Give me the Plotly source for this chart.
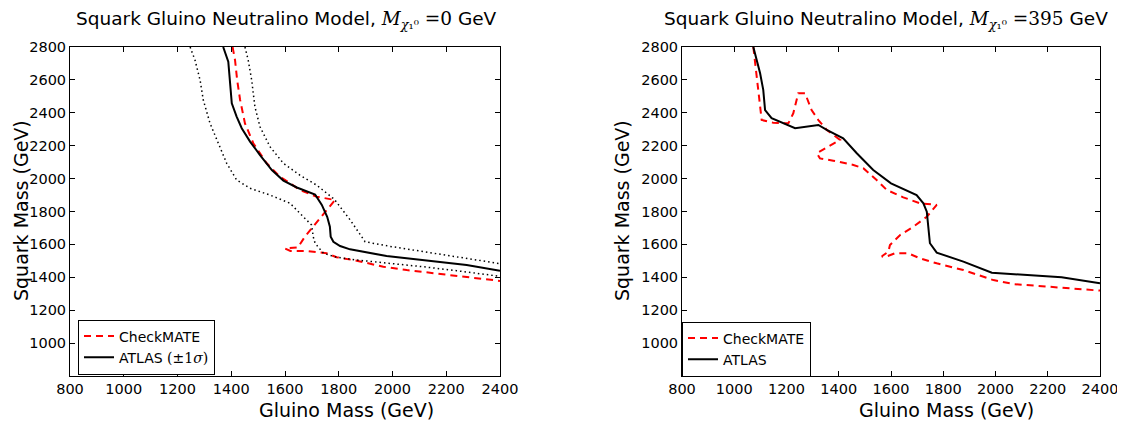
import plotly.graph_objects as go

# ---------------- data (GeV) ----------------
# Left panel: M_chi = 0 GeV
left_atlas_x = [1370, 1389, 1402, 1408, 1420, 1439, 1470, 1507, 1551, 1594, 1644, 1712, 1737, 1757, 1767, 1770, 1780, 1805, 1842, 1978, 2127, 2276, 2400]
left_atlas_y = [2800, 2711, 2458, 2428, 2377, 2306, 2225, 2143, 2052, 1988, 1946, 1903, 1840, 1768, 1708, 1647, 1616, 1590, 1570, 1529, 1501, 1475, 1440]

left_atlas_lo_x = [1247, 1265, 1284, 1296, 1321, 1352, 1383, 1420, 1470, 1544, 1619, 1668, 1699, 1705, 1712, 1743, 1792, 1867, 1991, 2115, 2239, 2400]
left_atlas_lo_y = [2800, 2721, 2599, 2478, 2336, 2215, 2093, 1992, 1941, 1900, 1850, 1768, 1718, 1647, 1607, 1546, 1522, 1505, 1485, 1464, 1440, 1406]

left_atlas_hi_x = [1451, 1463, 1476, 1488, 1507, 1544, 1594, 1656, 1718, 1783, 1842, 1870, 1898, 1991, 2115, 2239, 2400]
left_atlas_hi_y = [2800, 2721, 2599, 2437, 2315, 2194, 2093, 2020, 1960, 1875, 1750, 1680, 1616, 1588, 1556, 1525, 1483]

left_cm_x = [1405, 1414, 1422, 1433, 1451, 1482, 1532, 1581, 1656, 1718, 1786, 1761, 1730, 1699, 1674, 1648, 1600, 1620, 1681, 1755, 1792, 1867, 1966, 2053, 2177, 2301, 2400]
left_cm_y = [2800, 2721, 2599, 2478, 2336, 2215, 2093, 2012, 1931, 1890, 1870, 1819, 1759, 1698, 1647, 1582, 1575, 1560, 1560, 1546, 1522, 1501, 1464, 1444, 1420, 1394, 1378]

# Right panel: M_chi = 395 GeV
right_atlas_x = [1073, 1099, 1111, 1118, 1143, 1233, 1322, 1354, 1417, 1469, 1532, 1600, 1698, 1724, 1737, 1743, 1749, 1775, 1877, 1986, 2094, 2170, 2253, 2400]
right_atlas_y = [2800, 2640, 2539, 2417, 2367, 2306, 2326, 2296, 2245, 2154, 2052, 1971, 1900, 1850, 1799, 1688, 1607, 1550, 1495, 1428, 1418, 1408, 1400, 1364]

right_cm_x = [1073, 1079, 1092, 1105, 1149, 1207, 1226, 1245, 1271, 1296, 1322, 1354, 1405, 1360, 1316, 1328, 1379, 1456, 1494, 1545, 1584, 1647, 1711, 1775, 1737, 1686, 1635, 1596, 1590, 1565, 1575, 1615, 1666, 1711, 1775, 1877, 1992, 2068, 2221, 2400]
right_cm_y = [2800, 2721, 2539, 2356, 2340, 2336, 2397, 2519, 2519, 2417, 2356, 2296, 2235, 2194, 2154, 2123, 2109, 2083, 2063, 1991, 1931, 1886, 1850, 1840, 1768, 1708, 1657, 1596, 1556, 1528, 1522, 1546, 1546, 1515, 1485, 1444, 1383, 1359, 1339, 1319]

x_ticks = [800, 1000, 1200, 1400, 1600, 1800, 2000, 2200, 2400]
y_ticks = [1000, 1200, 1400, 1600, 1800, 2000, 2200, 2400, 2600, 2800]

FONT = "DejaVu Sans"
SERIF = "DejaVu Serif"

# The page body has an 8px margin; lay out in screen pixels and convert.
OFF = 8
W, H = 1125 - OFF, 434 - OFF


def fx(px):
    return (px - OFF) / W


def fy(py):
    return 1 - (py - OFF) / H


RED_DASH = "7px,5px"
DOT = "1.5px,3px"

fig = go.Figure()

# Left panel traces
fig.add_trace(go.Scatter(x=left_cm_x, y=left_cm_y, mode="lines", name="CheckMATE",
                         line=dict(color="red", width=2, dash=RED_DASH),
                         xaxis="x", yaxis="y", legend="legend"))
fig.add_trace(go.Scatter(x=left_atlas_x, y=left_atlas_y, mode="lines",
                         name=f'ATLAS <span style="font-family:{SERIF}">(±1<i>σ</i>)</span>',
                         line=dict(color="black", width=2),
                         xaxis="x", yaxis="y", legend="legend"))
fig.add_trace(go.Scatter(x=left_atlas_lo_x, y=left_atlas_lo_y, mode="lines", showlegend=False,
                         line=dict(color="black", width=1.5, dash=DOT), xaxis="x", yaxis="y"))
fig.add_trace(go.Scatter(x=left_atlas_hi_x, y=left_atlas_hi_y, mode="lines", showlegend=False,
                         line=dict(color="black", width=1.5, dash=DOT), xaxis="x", yaxis="y"))

# Right panel traces
fig.add_trace(go.Scatter(x=right_cm_x, y=right_cm_y, mode="lines", name="CheckMATE",
                         line=dict(color="red", width=2, dash=RED_DASH),
                         xaxis="x2", yaxis="y2", legend="legend2"))
fig.add_trace(go.Scatter(x=right_atlas_x, y=right_atlas_y, mode="lines", name="ATLAS",
                         line=dict(color="black", width=2),
                         xaxis="x2", yaxis="y2", legend="legend2"))

ydom = [fy(376), fy(47)]
axis_common = dict(showline=True, linecolor="black", linewidth=1, mirror="allticks",
                   ticks="inside", ticklen=5, tickcolor="black", showgrid=False,
                   zeroline=False, automargin=False,
                   tickfont=dict(family=FONT, size=14.5, color="black"))

legend_common = dict(xanchor="left", yanchor="middle", bgcolor="white",
                     bordercolor="black", borderwidth=1, tracegroupgap=0,
                     font=dict(family=FONT, size=14, color="black"), itemwidth=30)

fig.update_layout(
    width=W, height=H, autosize=False,
    margin=dict(l=0, r=0, t=0, b=0, pad=0, autoexpand=False),
    paper_bgcolor="white", plot_bgcolor="white",
    font=dict(family=FONT, color="black"),
    xaxis=dict(domain=[fx(70), fx(500)], range=[800, 2400], tickvals=x_ticks, anchor="y", **axis_common),
    yaxis=dict(domain=ydom, range=[800, 2800], tickvals=y_ticks, anchor="x", **axis_common),
    xaxis2=dict(domain=[fx(682), fx(1100)], range=[800, 2400], tickvals=x_ticks, anchor="y2", **axis_common),
    yaxis2=dict(domain=ydom, range=[800, 2800], tickvals=y_ticks, anchor="x2", **axis_common),
    legend=dict(x=fx(78), y=fy(347), **legend_common),
    legend2=dict(x=fx(682), y=fy(349), **legend_common),
    showlegend=True,
)


def title_text(val):
    return (f'Squark Gluino Neutralino Model, <span style="font-family:{SERIF}"><i>M</i>'
            f'<sub><i>χ</i>₁⁰</sub> ={val}</span> GeV')


annos = [
    dict(text=title_text("0"), x=fx(286), y=fy(20), font=dict(size=18.5)),
    dict(text=title_text("395"), x=fx(886), y=fy(20), font=dict(size=18.5)),
    dict(text="Gluino Mass (GeV)", x=fx(346), y=fy(410), font=dict(size=19)),
    dict(text="Gluino Mass (GeV)", x=fx(946), y=fy(410), font=dict(size=19)),
    dict(text="Squark Mass (GeV)", x=fx(21), y=fy(211), textangle=-90, font=dict(size=19)),
    dict(text="Squark Mass (GeV)", x=fx(622), y=fy(211), textangle=-90, font=dict(size=19)),
]
for a in annos:
    a.update(xref="paper", yref="paper", showarrow=False, xanchor="center", yanchor="middle")
    a["font"].update(family=FONT, color="black")
fig.update_layout(annotations=annos)

fig.write_html("out.html")
